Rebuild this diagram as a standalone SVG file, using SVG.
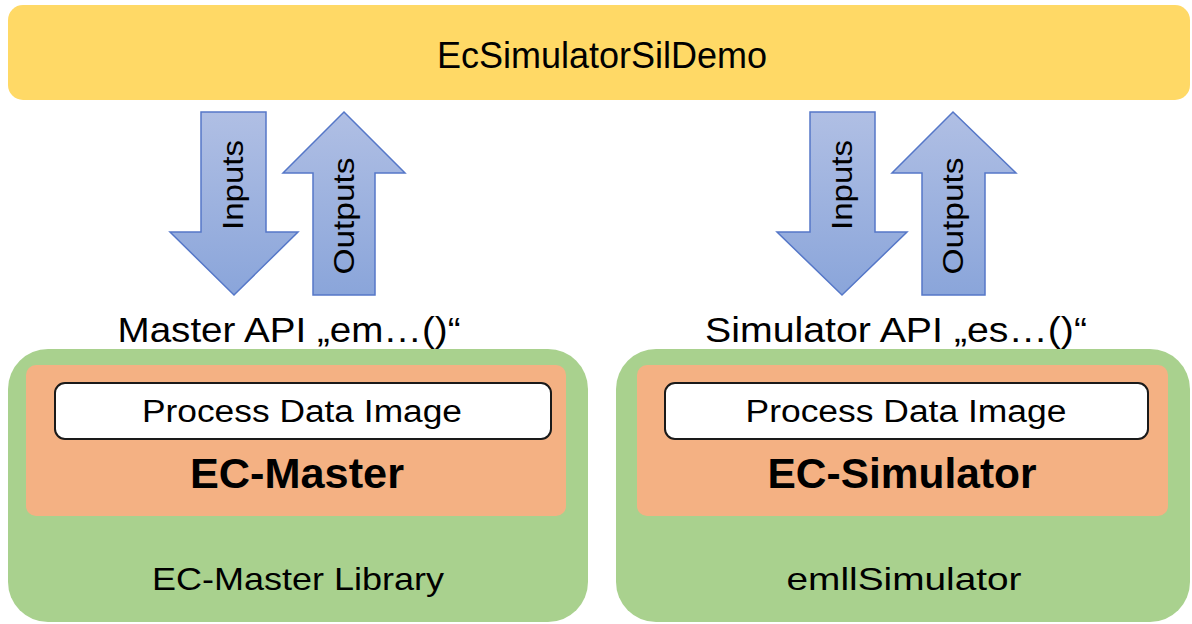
<svg xmlns="http://www.w3.org/2000/svg" width="1192" height="624" viewBox="0 0 1192 624">
  <defs>
    <linearGradient id="arrowFill" x1="0" y1="0" x2="0" y2="1">
      <stop offset="0" stop-color="#b0bfe4"/>
      <stop offset="1" stop-color="#8aa5da"/>
    </linearGradient>
    <style>
      text { font-family: "Liberation Sans", Arial, sans-serif; fill: #000; text-anchor: middle; }
      .title { font-size: 36px; }
      .api { font-size: 35px; }
      .pdi { font-size: 31px; }
      .core { font-size: 42px; font-weight: bold; }
      .lib { font-size: 32px; }
      .arrowlbl { font-size: 29px; }
      .arrow { fill: url(#arrowFill); stroke: #5577c8; stroke-width: 1.5; stroke-linejoin: miter; }
      .green { fill: #a9d18e; }
      .orange { fill: #f4b183; }
      .white { fill: #ffffff; stroke: #1a1a1a; stroke-width: 2; }
    </style>
  </defs>
  <rect width="1192" height="624" fill="#ffffff"/>

  <g id="app">
    <rect x="8" y="5" width="1182" height="95" rx="15" fill="#ffd966"/>
    <text class="title" x="602" y="68" textLength="330" lengthAdjust="spacingAndGlyphs">EcSimulatorSilDemo</text>
  </g>

  <g id="master-api">
    <text class="api" x="289" y="342" textLength="343" lengthAdjust="spacingAndGlyphs">Master API „em…()“</text>
  </g>
  <g id="simulator-api">
    <text class="api" x="896" y="342" textLength="382" lengthAdjust="spacingAndGlyphs">Simulator API „es…()“</text>
  </g>

  <g id="ec-master-library">
    <rect class="green" x="8" y="349" width="580" height="273" rx="40"/>
    <text class="lib" x="298" y="590" textLength="292" lengthAdjust="spacingAndGlyphs">EC-Master Library</text>
  </g>
  <g id="ec-master">
    <rect class="orange" x="26" y="365" width="540" height="151" rx="10"/>
    <text class="core" x="297" y="488" textLength="214" lengthAdjust="spacingAndGlyphs">EC-Master</text>
  </g>
  <g id="master-pdi">
    <rect class="white" x="55" y="383" width="496" height="56" rx="10"/>
    <text class="pdi" x="302" y="422" textLength="320" lengthAdjust="spacingAndGlyphs">Process Data Image</text>
  </g>

  <g id="emll-simulator">
    <rect class="green" x="616" y="349" width="574" height="273" rx="40"/>
    <text class="lib" x="904" y="590" textLength="235" lengthAdjust="spacingAndGlyphs">emllSimulator</text>
  </g>
  <g id="ec-simulator">
    <rect class="orange" x="637" y="365" width="531" height="151" rx="10"/>
    <text class="core" x="902" y="488" textLength="269" lengthAdjust="spacingAndGlyphs">EC-Simulator</text>
  </g>
  <g id="simulator-pdi">
    <rect class="white" x="665" y="383" width="483" height="56" rx="10"/>
    <text class="pdi" x="906" y="422" textLength="321" lengthAdjust="spacingAndGlyphs">Process Data Image</text>
  </g>

  <g id="connectors">
    <g id="master-inputs">
      <polygon class="arrow" points="201,112 266,112 266,232 298,232 234,295 170,232 201,232"/>
      <text class="arrowlbl" transform="translate(233,185) rotate(-90)" y="10" textLength="90" lengthAdjust="spacingAndGlyphs">Inputs</text>
    </g>
    <g id="master-outputs">
      <polygon class="arrow" points="344,112 405,173 375,173 375,295 313,295 313,173 283,173"/>
      <text class="arrowlbl" transform="translate(344,216) rotate(-90)" y="10" textLength="117" lengthAdjust="spacingAndGlyphs">Outputs</text>
    </g>
    <g id="simulator-inputs">
      <polygon class="arrow" points="810,112 875,112 875,232 907,232 842,295 777,232 810,232"/>
      <text class="arrowlbl" transform="translate(842,185) rotate(-90)" y="10" textLength="90" lengthAdjust="spacingAndGlyphs">Inputs</text>
    </g>
    <g id="simulator-outputs">
      <polygon class="arrow" points="953,112 1016,173 985,173 985,295 922,295 922,173 892,173"/>
      <text class="arrowlbl" transform="translate(953,216) rotate(-90)" y="10" textLength="117" lengthAdjust="spacingAndGlyphs">Outputs</text>
    </g>
  </g>
</svg>
